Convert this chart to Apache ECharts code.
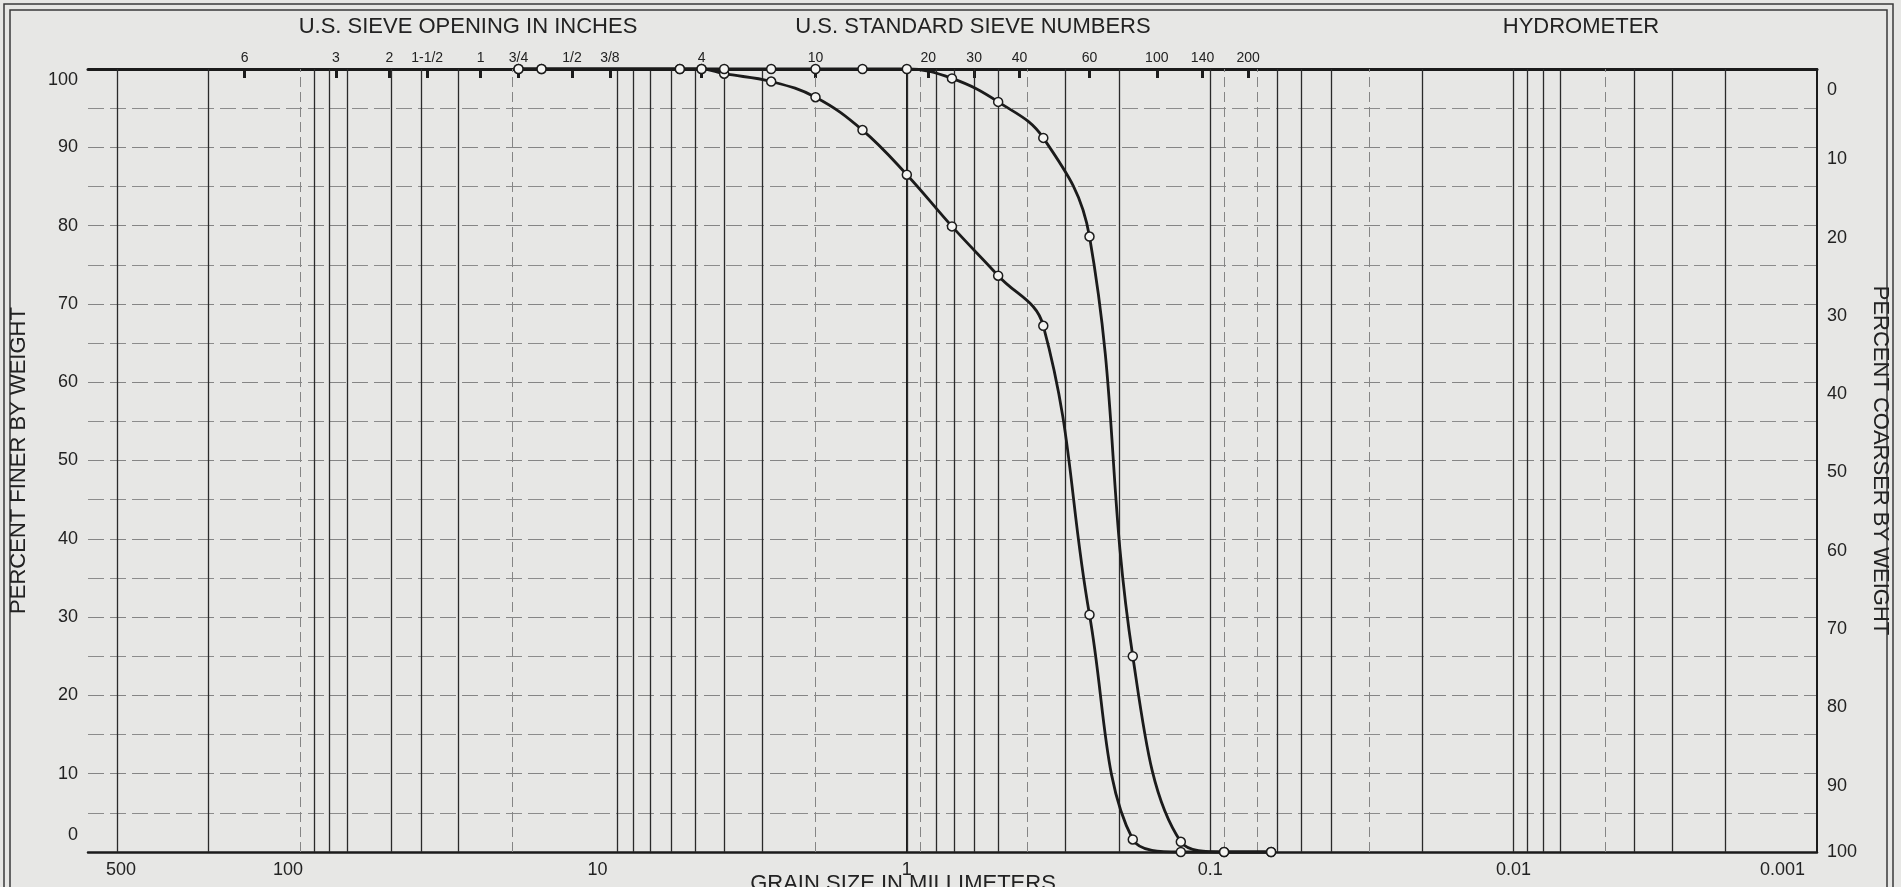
<!DOCTYPE html>
<html>
<head>
<meta charset="utf-8">
<title>Grain size distribution</title>
<script src="https://cdn.jsdelivr.net/npm/echarts@6/dist/echarts.min.js"></script>
<style>
  html, body { margin: 0; padding: 0; background: #e7e7e5; }
  #chart { width: 1901px; height: 887px; }
</style>
</head>
<body>
<div id="chart"></div>
<script>
// sieve openings used for the two samples (mm) and percent finer
const grainSize = [19.05, 16.0, 5.6, 4.75, 4.0, 2.8, 2.0, 1.4, 1.0, 0.71, 0.5, 0.355, 0.25, 0.18, 0.125, 0.09, 0.063];
const finerA = [100, 100, 100, 100, 99.4, 98.4, 96.4, 92.2, 86.5, 79.9, 73.6, 67.2, 30.3, 1.6, 0, 0, 0];
const finerB = [100, 100, 100, 100, 100, 100, 100, 100, 100, 98.8, 95.8, 91.2, 78.6, 25.0, 1.3, 0, 0];

// sieve marks along the top edge
const sieveMm = [152.4, 76.2, 50.8, 38.1, 25.4, 19.05, 12.7, 9.525, 4.75, 2.0, 0.85, 0.6, 0.425, 0.25, 0.15, 0.106, 0.075];
const sieveLabels = ["6", "3", "2", "1-1/2", "1", "3/4", "1/2", "3/8", "4", "10", "20", "30", "40", "60", "100", "140", "200"];

// vertical grid lines of the log paper (mm)
const gridSolid = [400, 200, 90, 80, 70, 50, 40, 30, 9, 8, 7, 6, 5, 4, 3, 1, 0.8, 0.7, 0.6, 0.5, 0.3, 0.2, 0.1,
                   0.06, 0.05, 0.04, 0.02, 0.01, 0.009, 0.008, 0.007, 0.004, 0.003, 0.002];
const gridFaint = [100, 20, 2, 0.9, 0.4, 0.09, 0.07, 0.03, 0.005];

const xMin = 0.001;
const xMax = 500;

const FONT = '"Liberation Sans", Arial, Helvetica, sans-serif';
const INK = "#1b1b1b";
const LABEL = { fontSize: 18, color: "#222", fontFamily: FONT };

const chart = echarts.init(document.getElementById("chart"));

function sieveLabel(v) {
    let best = 0;
    let bestD = Infinity;
    sieveMm.forEach((mm, i) => {
        const d = Math.abs(Math.log10(mm) - v);
        if (d < bestD) { bestD = d; best = i; }
    });
    return sieveLabels[best];
}

// the printed form has a few labels nudged off their lines; copy that
function bottomLabel(v) {
    if (v > 400) return "{edge|" + v + "}";
    if (v > 50) return "{l12|" + v + "}";
    if (v > 5) return "{l6|" + v + "}";
    if (v < 0.005) return "{l6|" + v + "}";
    return "{n|" + v + "}";
}

function leftLabel(v) {
    if (v === 100) return "{down|100}";
    if (v === 0) return "{up|0}";
    return "{n|" + v + "}";
}

function rightLabel(v) {
    if (v === 0) return "{down2|0}";
    if (v === 100) return "{n|100}";
    return "{down|" + v + "}";
}

function curve(name, values) {
    return {
        name: name,
        type: "line",
        xAxisIndex: 0,
        yAxisIndex: 0,
        data: grainSize.map((d, i) => [d, values[i]]),
        smooth: 0.4,
        symbol: "circle",
        symbolSize: 9,
        showAllSymbol: true,
        clip: false,
        z: 4,
        lineStyle: { color: INK, width: 2.8 },
        itemStyle: { color: "#f4f4f2", borderColor: INK, borderWidth: 1.5 }
    };
}

function gridMarks(values, style) {
    return {
        silent: true,
        symbol: ["none", "none"],
        precision: 10,   // default rounding (2) would merge the 0.00x lines
        label: { show: false },
        z: 1,
        lineStyle: style,
        emphasis: { disabled: true },
        data: values.map(v => ({ xAxis: v }))
    };
}

chart.setOption({
    backgroundColor: "#e7e7e5",
    animation: false,
    textStyle: { fontFamily: FONT },

    grid: { left: 82, right: 84, top: 69, bottom: 35, containLabel: false },

    xAxis: [
        {
            type: "log",
            logBase: 10,
            min: xMin,
            max: xMax,
            inverse: true,
            position: "bottom",
            axisLine: { show: true, lineStyle: { color: INK, width: 2.5 } },
            axisTick: { show: false },
            splitLine: { show: false },
            axisLabel: {
                fontSize: 18,
                color: "#222",
                margin: 9,
                alignMinLabel: "right",
                alignMaxLabel: "left",
                formatter: bottomLabel,
                rich: {
                    n: LABEL,
                    edge: Object.assign({ padding: [0, 0, 0, 18] }, LABEL),
                    l12: Object.assign({ padding: [0, 24, 0, 0] }, LABEL),
                    l6: Object.assign({ padding: [0, 12, 0, 0] }, LABEL)
                }
            }
        },
        {
            // sieve scale drawn in log10 units so it lines up with the bottom axis
            type: "value",
            min: Math.log10(xMin),
            max: Math.log10(xMax),
            inverse: true,
            position: "top",
            axisLine: { show: true, lineStyle: { color: INK, width: 3 } },
            axisTick: {
                show: true,
                inside: true,
                length: 9,
                customValues: sieveMm.map(v => Math.log10(v)),
                lineStyle: { color: INK, width: 3 }
            },
            axisLabel: {
                show: true,
                customValues: sieveMm.map(v => Math.log10(v)),
                formatter: sieveLabel,
                fontSize: 14,
                color: "#222",
                margin: 4
            },
            splitLine: { show: false }
        }
    ],

    yAxis: [
        {
            type: "value",
            min: 0,
            max: 100,
            interval: 10,
            position: "left",
            name: "PERCENT FINER BY WEIGHT",
            nameLocation: "middle",
            nameRotate: 90,
            nameGap: 58,
            nameTextStyle: { fontSize: 22, color: "#222" },
            axisLine: { show: true, lineStyle: { color: INK, width: 2 } },
            axisTick: { show: false },
            axisLabel: {
                fontSize: 18, color: "#222", margin: 10,
                formatter: leftLabel,
                rich: {
                    n: LABEL,
                    down: Object.assign({ padding: [22, 0, 0, 0] }, LABEL),
                    up: Object.assign({ padding: [0, 0, 34, 0] }, LABEL)
                }
            },
            splitLine: { show: true, lineStyle: { color: "#858585", width: 1, type: [16, 6] } },
            minorTick: { show: false, splitNumber: 2 },
            minorSplitLine: { show: true, lineStyle: { color: "#8c8c8c", width: 1, type: [16, 6] } }
        },
        {
            type: "value",
            min: 0,
            max: 100,
            interval: 10,
            inverse: true,
            position: "right",
            name: "PERCENT COARSER BY WEIGHT",
            nameLocation: "middle",
            nameRotate: -90,
            nameGap: 52,
            nameTextStyle: { fontSize: 22, color: "#222" },
            axisLine: { show: true, lineStyle: { color: INK, width: 2 } },
            axisTick: { show: false },
            axisLabel: {
                fontSize: 18, color: "#222", margin: 10,
                formatter: rightLabel,
                rich: {
                    n: LABEL,
                    down: Object.assign({ padding: [24, 0, 0, 0] }, LABEL),
                    down2: Object.assign({ padding: [42, 0, 0, 0] }, LABEL)
                }
            },
            splitLine: { show: false }
        }
    ],

    series: [
        Object.assign(curve("Sample A", finerA), {
            markLine: gridMarks(gridSolid, { color: "#2a2a2a", width: 1.3, type: "solid" })
        }),
        Object.assign(curve("Sample B", finerB), {
            markLine: gridMarks(gridFaint, { color: "#858585", width: 1, type: [10, 5] })
        })
    ],

    graphic: [
        { type: "rect", silent: true, shape: { x: 4, y: 4, width: 1889, height: 900 },
          style: { fill: "none", stroke: "#3a3a3a", lineWidth: 1.5 } },
        { type: "rect", silent: true, shape: { x: 10, y: 10, width: 1877, height: 900 },
          style: { fill: "none", stroke: "#3a3a3a", lineWidth: 1.5 } },
        { type: "text", x: 468, y: 27, silent: true,
          style: { text: "U.S. SIEVE OPENING IN INCHES", fill: "#222", font: "22px " + FONT, align: "center", verticalAlign: "middle" } },
        { type: "text", x: 973, y: 27, silent: true,
          style: { text: "U.S. STANDARD SIEVE NUMBERS", fill: "#222", font: "22px " + FONT, align: "center", verticalAlign: "middle" } },
        { type: "text", x: 1581, y: 27, silent: true,
          style: { text: "HYDROMETER", fill: "#222", font: "22px " + FONT, align: "center", verticalAlign: "middle" } },
        { type: "text", x: 903, y: 884, silent: true,
          style: { text: "GRAIN SIZE IN MILLIMETERS", fill: "#222", font: "22px " + FONT, align: "center", verticalAlign: "middle" } }
    ]
});
</script>
</body>
</html>
